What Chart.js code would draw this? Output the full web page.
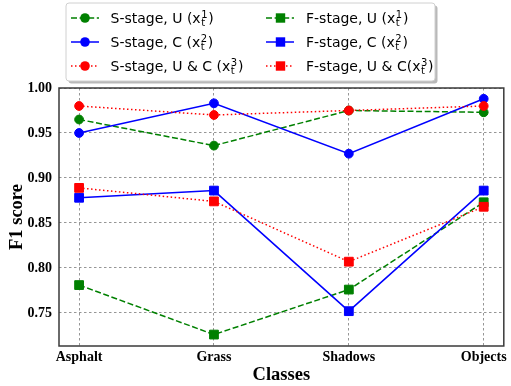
<!DOCTYPE html>
<html>
<head>
<meta charset="utf-8">
<script src="https://cdn.jsdelivr.net/npm/chart.js@4/dist/chart.umd.min.js"></script>
<style>
html,body{margin:0;padding:0;background:#fff;}
#wrap{width:511px;height:386px;position:relative;}
</style>
</head>
<body>
<div id="wrap"><canvas id="c" width="511" height="386"></canvas></div>
<script>
// ---- data ----
const categories = ["Asphalt", "Grass", "Shadows", "Objects"];
const sStageU  = [0.965, 0.936, 0.975, 0.973];
const sStageC  = [0.950, 0.983, 0.927, 0.988];
const sStageUC = [0.980, 0.970, 0.975, 0.980];
const fStageU  = [0.781, 0.726, 0.776, 0.873];
const fStageC  = [0.878, 0.886, 0.752, 0.886];
const fStageUC = [0.889, 0.874, 0.807, 0.868];
const yTicks = [0.75, 0.80, 0.85, 0.90, 0.95, 1.00];
const seriesNames = [
  ["S-stage, U (", "1", ")"],
  ["S-stage, C (", "2", ")"],
  ["S-stage, U & C (", "3", ")"],
  ["F-stage, U (", "1", ")"],
  ["F-stage, C (", "2", ")"],
  ["F-stage, U & C(", "3", ")"]
];

const GREEN = "#008000", BLUE = "#0000ff", RED = "#ff0000";
const DASH = [6, 2.6], DOT = [1.5, 2.5];
const styles = [
  {color: GREEN, dash: DASH, shape: "circle"},
  {color: BLUE,  dash: [],   shape: "circle"},
  {color: RED,   dash: DOT,  shape: "circle"},
  {color: GREEN, dash: DASH, shape: "rect"},
  {color: BLUE,  dash: [],   shape: "rect"},
  {color: RED,   dash: DOT,  shape: "rect"}
];
const allSeries = [sStageU, sStageC, sStageUC, fStageU, fStageC, fStageUC];

const datasets = allSeries.map((vals, i) => ({
  label: seriesNames[i].join("x"),
  data: vals.map((v, k) => ({x: k, y: v})),
  borderColor: styles[i].color,
  backgroundColor: styles[i].color,
  borderWidth: 1.5,
  borderDash: styles[i].dash,
  pointStyle: styles[i].shape,
  pointRadius: styles[i].shape === "rect" ? 6.2 : 4.4,
  pointBorderWidth: 1,
  pointBorderColor: styles[i].color,
  pointBackgroundColor: styles[i].color,
  tension: 0,
  fill: false,
  order: 5 - i,
  clip: false
}));

const SERIF = "'Liberation Serif', 'Times New Roman', serif";
const SANS = "'DejaVu Sans', sans-serif";

const framePlugin = {
  id: "frame",
  afterDatasetsDraw(chart) {
    const {ctx, chartArea: a} = chart;
    ctx.save();
    ctx.strokeStyle = "#3a3a3a";
    ctx.lineWidth = 1.5;
    ctx.setLineDash([]);
    ctx.strokeRect(a.left, a.top, a.right - a.left, a.bottom - a.top);
    ctx.restore();
  }
};

function roundRect(ctx, x, y, w, h, r) {
  ctx.beginPath();
  ctx.moveTo(x + r, y);
  ctx.lineTo(x + w - r, y);
  ctx.quadraticCurveTo(x + w, y, x + w, y + r);
  ctx.lineTo(x + w, y + h - r);
  ctx.quadraticCurveTo(x + w, y + h, x + w - r, y + h);
  ctx.lineTo(x + r, y + h);
  ctx.quadraticCurveTo(x, y + h, x, y + h - r);
  ctx.lineTo(x, y + r);
  ctx.quadraticCurveTo(x, y, x + r, y);
  ctx.closePath();
}

const legendPlugin = {
  id: "customLegend",
  afterDraw(chart) {
    const ctx = chart.ctx;
    ctx.save();
    const bx = 66, by = 3, bw = 369, bh = 78;
    // shadow
    roundRect(ctx, bx + 2.5, by + 2.5, bw, bh, 3);
    ctx.fillStyle = "rgba(128,128,128,0.55)";
    ctx.fill();
    roundRect(ctx, bx, by, bw, bh, 3);
    ctx.fillStyle = "#ffffff";
    ctx.fill();
    ctx.strokeStyle = "#d0d0d0";
    ctx.lineWidth = 1;
    ctx.stroke();

    const rowsY = [18, 42, 66];
    const cols = [{l0: 71, l1: 99, m: 85, t: 110.5}, {l0: 266, l1: 294, m: 280.5, t: 306}];
    for (let i = 0; i < 6; i++) {
      const col = cols[Math.floor(i / 3)];
      const y = rowsY[i % 3];
      const st = styles[i];
      ctx.strokeStyle = st.color;
      ctx.lineWidth = 1.5;
      ctx.setLineDash(st.dash);
      ctx.beginPath();
      ctx.moveTo(col.l0, y);
      ctx.lineTo(col.l1, y);
      ctx.stroke();
      ctx.setLineDash([]);
      ctx.fillStyle = st.color;
      if (st.shape === "circle") {
        ctx.beginPath();
        ctx.arc(col.m, y, 4.8, 0, Math.PI * 2);
        ctx.fill();
      } else {
        ctx.fillRect(col.m - 4.7, y - 4.7, 9.4, 9.4);
      }
      // text
      const parts = seriesNames[i];
      const base = y + 5;
      ctx.fillStyle = "#000";
      ctx.textBaseline = "alphabetic";
      ctx.textAlign = "left";
      ctx.font = "14px " + SANS;
      let x = col.t;
      ctx.fillText(parts[0] + "x", x, base);
      x += ctx.measureText(parts[0] + "x").width + 0.5;
      ctx.font = "10px " + SANS;
      ctx.fillText(parts[1], x, base - 5);
      ctx.fillText("t", x, base + 2.5);
      x += Math.max(ctx.measureText(parts[1]).width, ctx.measureText("t").width) + 0.8;
      ctx.font = "14px " + SANS;
      ctx.fillText(parts[2], x, base);
    }
    ctx.restore();
  }
};

new Chart(document.getElementById("c"), {
  type: "line",
  data: {datasets},
  options: {
    responsive: false,
    animation: false,
    devicePixelRatio: 1,
    layout: {padding: {top: 88, right: 2, left: 0, bottom: 0}},
    plugins: {legend: {display: false}, tooltip: {enabled: false}},
    scales: {
      x: {
        type: "linear",
        min: -0.149,
        max: 3.149,
        afterBuildTicks: s => { s.ticks = categories.map((_, k) => ({value: k})); },
        afterFit: s => { s.height = 40; },
        ticks: {
          callback: v => categories[v],
          font: {family: SERIF, size: 14, weight: "bold"},
          color: "#000",
          padding: 3,
          maxRotation: 0,
          autoSkip: false
        },
        grid: {color: "rgba(90,90,90,0.8)", lineWidth: 0.8, drawTicks: false},
        border: {display: false, dash: [2.5, 2.5]},
        title: {
          display: true, text: "Classes", color: "#000",
          font: {family: SERIF, size: 18.5, weight: "bold"},
          padding: {top: 0, bottom: 0}
        }
      },
      y: {
        type: "linear",
        min: 0.7133,
        max: 1.0,
        afterBuildTicks: s => { s.ticks = yTicks.map(v => ({value: v})); },
        afterFit: s => { s.width = 59; },
        ticks: {
          callback: v => v.toFixed(2),
          font: {family: SERIF, size: 14, weight: "bold"},
          color: "#000",
          padding: 7
        },
        grid: {color: "rgba(90,90,90,0.8)", lineWidth: 0.8, drawTicks: false},
        border: {display: false, dash: [2.5, 2.5]},
        title: {
          display: true, text: "F1 score", color: "#000",
          font: {family: SERIF, size: 18.5, weight: "bold"},
          padding: {top: 6, bottom: 0}
        }
      }
    }
  },
  plugins: [framePlugin, legendPlugin]
});
</script>
</body>
</html>
